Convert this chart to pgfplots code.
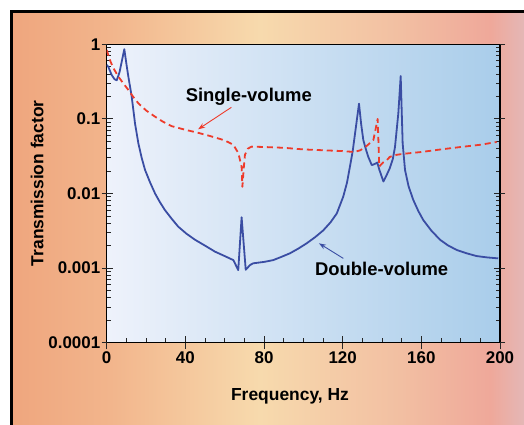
\documentclass[border=0pt]{standalone}
\usepackage{fontspec}
\setmainfont{Liberation Sans}
\usepackage{pgfplots}
\pgfplotsset{compat=1.18}
\usetikzlibrary{arrows.meta}
\definecolor{blueline}{HTML}{3A4DA3}
\definecolor{redline}{HTML}{EE3B2B}
\definecolor{plotL}{HTML}{EEF2FB}
\definecolor{plotR}{HTML}{A9CDEA}
\definecolor{bgA}{HTML}{EFA67E}
\definecolor{bgB}{HTML}{F2B58C}
\definecolor{bgC}{HTML}{F7DAAD}
\definecolor{bgD}{HTML}{F2BFA2}
\definecolor{bgE}{HTML}{EFA89A}
\definecolor{bgF}{HTML}{E4B7B6}
\pgfdeclarehorizontalshading{bgshade}{100bp}{color(0bp)=(bgA); color(25bp)=(bgA); color(34.6bp)=(bgB); color(49.2bp)=(bgC); color(62.9bp)=(bgD); color(71.7bp)=(bgE); color(75bp)=(bgF); color(100bp)=(bgF)}
\newcommand{\tickfont}{\bfseries\fontsize{17}{19}\selectfont}
\newcommand{\labfont}{\bfseries\fontsize{17.5}{20}\selectfont}
\newcommand{\annfont}{\bfseries\fontsize{18.5}{21}\selectfont}
\begin{document}
\begin{tikzpicture}
\path[use as bounding box, fill=white] (0,0) rectangle (524bp,425bp);
\shade[shading=bgshade] (12bp,0) rectangle (524bp,413.5bp);
\draw[line width=2.5bp, black] (11.3bp,0) -- (11.3bp,413.5bp) -- (524bp,413.5bp);
\node[font=\labfont, anchor=base] at (290bp,25bp) {Frequency, Hz};
\node[font=\labfont, anchor=base, rotate=90] at (43.3bp,241.7bp) {Transmission factor};
\begin{axis}[
  at={(106.7bp,82.3bp)}, anchor=south west,
  scale only axis, width=393.3bp, height=298.4bp,
  xmin=0, xmax=200, ymode=log, ymin=1e-4, ymax=1,
  axis background/.style={left color=plotL, right color=plotR},
  axis line style={black, line width=1.1bp},
  xtick={0,40,80,120,160,200}, minor x tick num=3,
  ytick={1e-4,1e-3,1e-2,1e-1,1},
  yticklabels={0.0001,0.001,0.01,0.1,1},
  minor ytick={2e-4,3e-4,4e-4,5e-4,6e-4,7e-4,8e-4,9e-4,2e-3,3e-3,4e-3,5e-3,6e-3,7e-3,8e-3,9e-3,2e-2,3e-2,4e-2,5e-2,6e-2,7e-2,8e-2,9e-2,0.2,0.3,0.4,0.5,0.6,0.7,0.8,0.9},
  xtick pos=left, ytick pos=both,
  tick align=inside, major tick length=6.5bp, minor tick length=4.5bp,
  every tick/.style={black!85, line width=0.9bp},
  extra x ticks={0,40,80,120,160,200}, extra x tick labels={},
  extra x tick style={tick align=outside, major tick length=6.5bp},
  extra y ticks={1e-4,1e-3,1e-2,1e-1,1}, extra y tick labels={},
  extra y tick style={tick align=outside, major tick length=5bp},
  /pgf/number format/assume math mode=true,
  ticklabel style={font=\tickfont},
  xticklabel style={yshift=-5bp},
  yticklabel style={xshift=-3bp},
  clip=true,
]
\addplot[blueline, line width=1.8bp, line join=round] coordinates {
(0,0.53) (0.8,0.50) (2.5,0.39) (4,0.34) (5.1,0.33) (6.5,0.42) (8,0.65) (8.95,0.86) (10,0.55) (11,0.37) (12.7,0.2) (14.4,0.087) (16.1,0.047) (17.8,0.030) (19.5,0.0207) (22,0.0142) (24.6,0.010) (27,0.0077) (29.6,0.006) (33,0.0046) (36.4,0.00359) (40.5,0.0029) (44.9,0.0024) (50,0.0020) (55.1,0.00166) (60,0.00145) (64.4,0.00128) (66.9,0.00094) (68.6,0.0048) (70.7,0.00095) (72.9,0.0011) (74.5,0.00116) (80,0.00121) (84.7,0.00128) (89,0.00142) (93.2,0.00158) (97.5,0.00183) (101.7,0.00215) (106,0.0026) (110.1,0.0032) (113.8,0.0041) (117,0.0054) (120.3,0.0091) (122.2,0.014) (123.7,0.023) (125.1,0.037) (126.3,0.064) (128.3,0.16) (129.4,0.085) (130.5,0.052) (131.7,0.040) (133,0.031) (134.8,0.024) (136.5,0.025) (137.6,0.026) (138.6,0.021) (140.7,0.0145) (142.5,0.018) (144,0.022) (145.5,0.029) (146.6,0.042) (148.3,0.119) (149.5,0.376) (150.5,0.047) (151.7,0.0207) (153.5,0.0125) (155.9,0.0082) (158.5,0.0058) (161,0.0044) (165,0.0032) (169.5,0.0024) (173.5,0.00202) (178,0.00175) (183,0.00158) (188.1,0.00145) (193.5,0.00139) (199.1,0.00135)
};
\addplot[redline, line width=1.8bp, dash pattern=on 6bp off 4bp, line join=round] coordinates {
(0,0.84) (2,0.58) (3.8,0.46) (5.9,0.37) (8.4,0.30) (11,0.245) (13.5,0.197) (16.1,0.162) (20,0.13) (24.6,0.107) (28.5,0.092) (33,0.080) (39.5,0.072) (46.6,0.065) (52.5,0.059) (58.5,0.053) (61.7,0.049) (64.4,0.045) (66.9,0.035) (68.6,0.023) (69,0.0123) (69.7,0.022) (70.3,0.033) (71.8,0.040) (73.7,0.0425) (80,0.042) (90,0.041) (100,0.039) (110,0.038) (120,0.037) (126,0.036) (129,0.038) (132,0.043) (135.6,0.052) (137.8,0.10) (138.6,0.023) (140.5,0.026) (142.4,0.028) (144,0.031) (147.4,0.033) (150.8,0.034) (160,0.036) (170,0.039) (180,0.042) (190,0.045) (198.3,0.049)
};
\node[font=\annfont, anchor=base] at (axis cs:72.25,0.17) {Single-volume};
\node[font=\annfont, anchor=base] at (axis cs:139.8,7.9e-4) {Double-volume};
\draw[redline, line width=0.9bp, -{Stealth[length=7bp,width=5bp]}] (axis cs:63.4,0.143) -- (axis cs:46.5,0.0726);
\draw[blueline, line width=0.9bp, -{Stealth[length=7bp,width=5bp]}] (axis cs:120.3,0.00135) -- (axis cs:107.95,0.00215);
\end{axis}
\end{tikzpicture}
\end{document}
